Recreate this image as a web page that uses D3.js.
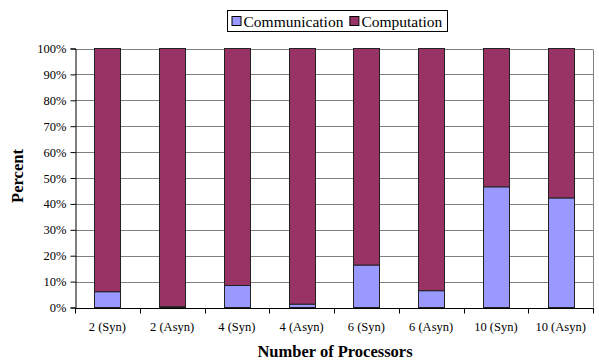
<!DOCTYPE html>
<html>
<head>
<meta charset="utf-8">
<script src="https://cdn.jsdelivr.net/npm/d3@7"></script>
<style>
  html, body { margin: 0; padding: 0; background: #fff; }
  svg { display: block; }
</style>
</head>
<body>
<svg id="chart" width="599" height="361"></svg>
<script>
// Share of run time spent in communication vs computation
const categories = ["2 (Syn)", "2 (Asyn)", "4 (Syn)", "4 (Asyn)", "6 (Syn)", "6 (Asyn)", "10 (Syn)", "10 (Asyn)"];
const communication = [6.1, 0.3, 8.5, 1.3, 16.4, 6.5, 46.6, 42.3];
const computation = communication.map(v => 100 - v);
const seriesNames = ["Communication", "Computation"];
const seriesColors = ["#9999FF", "#993366"];
const yTicks = [0, 10, 20, 30, 40, 50, 60, 70, 80, 90, 100];

const FONT = "'Liberation Serif', 'Times New Roman', serif";
const svg = d3.select("#chart");
const plot = { left: 75, right: 593, top: 48.5, bottom: 307.5 };

const xOuter = d3.scaleBand().domain(categories).range([plot.left, plot.right]);
const y = d3.scaleLinear().domain([0, 100]).range([plot.bottom, plot.top]);

// gridlines
svg.append("g")
  .selectAll("line").data(yTicks.filter(d => d > 0)).join("line")
  .attr("x1", plot.left).attr("x2", plot.right)
  .attr("y1", d => Math.round(y(d)) + 0.5).attr("y2", d => Math.round(y(d)) + 0.5)
  .attr("stroke", "#808080").attr("stroke-width", 1);

// right border
svg.append("line")
  .attr("x1", plot.right + 0.5).attr("x2", plot.right + 0.5)
  .attr("y1", Math.round(y(100)) + 0.5).attr("y2", plot.bottom)
  .attr("stroke", "#808080");

// stacked bars
const rows = categories.map((c, i) => ({ cat: c, Communication: communication[i], Computation: computation[i] }));
const stacked = d3.stack().keys(seriesNames)(rows);

svg.append("g")
  .selectAll("g").data(stacked).join("g")
  .attr("fill", (d, i) => seriesColors[i])
  .selectAll("rect").data(d => d).join("rect")
  .attr("x", d => Math.round(xOuter(d.data.cat) + xOuter.bandwidth() / 2 - 13) + 0.5)
  .attr("width", 26)
  .attr("y", d => y(d[1]))
  .attr("height", d => Math.max(0, y(d[0]) - y(d[1])))
  .attr("stroke", "#222")
  .attr("stroke-width", 1);

// y axis
const yAxis = d3.axisLeft(y).tickValues(yTicks).tickFormat(d => d + "%").tickSize(5).tickPadding(4);
const gy = svg.append("g").attr("transform", `translate(${plot.left + 0.5},0)`).call(yAxis);
gy.attr("font-family", null).attr("font-size", null);
gy.select(".domain").attr("stroke", "#000");
gy.selectAll(".tick line").attr("stroke", "#000");
gy.selectAll(".tick text").attr("fill", "#000")
  .style("font-size", "12.5px").style("font-family", FONT);

// x axis with ticks at category boundaries
const gx = svg.append("g").attr("transform", `translate(0,${Math.round(plot.bottom) + 0.5})`);
gx.append("line").attr("x1", plot.left).attr("x2", plot.right + 1).attr("stroke", "#000");
const bounds = categories.map(c => xOuter(c)).concat([plot.right]);
gx.selectAll("line.tk").data(bounds).join("line").attr("class", "tk")
  .attr("x1", d => Math.round(d) + 0.5).attr("x2", d => Math.round(d) + 0.5)
  .attr("y1", 0).attr("y2", 5).attr("stroke", "#000");
gx.selectAll("text").data(categories).join("text")
  .attr("x", d => xOuter(d) + xOuter.bandwidth() / 2)
  .attr("y", 22.5)
  .attr("text-anchor", "middle")
  .style("font-size", "12.5px").style("font-family", FONT)
  .text(d => d);

// axis titles
svg.append("text")
  .attr("x", 335).attr("y", 357)
  .attr("text-anchor", "middle")
  .style("font-size", "16.5px").style("font-weight", "bold").style("font-family", FONT)
  .text("Number of Processors");
svg.append("text")
  .attr("transform", "translate(23,176) rotate(-90)")
  .attr("text-anchor", "middle")
  .style("font-size", "16.5px").style("font-weight", "bold").style("font-family", FONT)
  .text("Percent");

// legend
const legend = svg.append("g");
const legendItems = [{ name: seriesNames[0], color: seriesColors[0] }, { name: seriesNames[1], color: seriesColors[1] }];
let lx = 231.5;
const boxLeft = 227.5;
legendItems.forEach(it => {
  legend.append("rect").attr("x", lx + 0.5).attr("y", 16.5).attr("width", 9).attr("height", 9)
    .attr("fill", it.color).attr("stroke", "#000");
  const t = legend.append("text").attr("x", lx + 12).attr("y", 26.5)
    .style("font-size", "15.5px").style("font-family", FONT).text(it.name);
  lx = lx + 12 + t.node().getComputedTextLength() + 6;
});
legend.insert("rect", ":first-child")
  .attr("x", boxLeft).attr("y", 10.5).attr("width", Math.round(lx - boxLeft - 1)).attr("height", 21)
  .attr("fill", "#fff").attr("stroke", "#000");
</script>
</body>
</html>
